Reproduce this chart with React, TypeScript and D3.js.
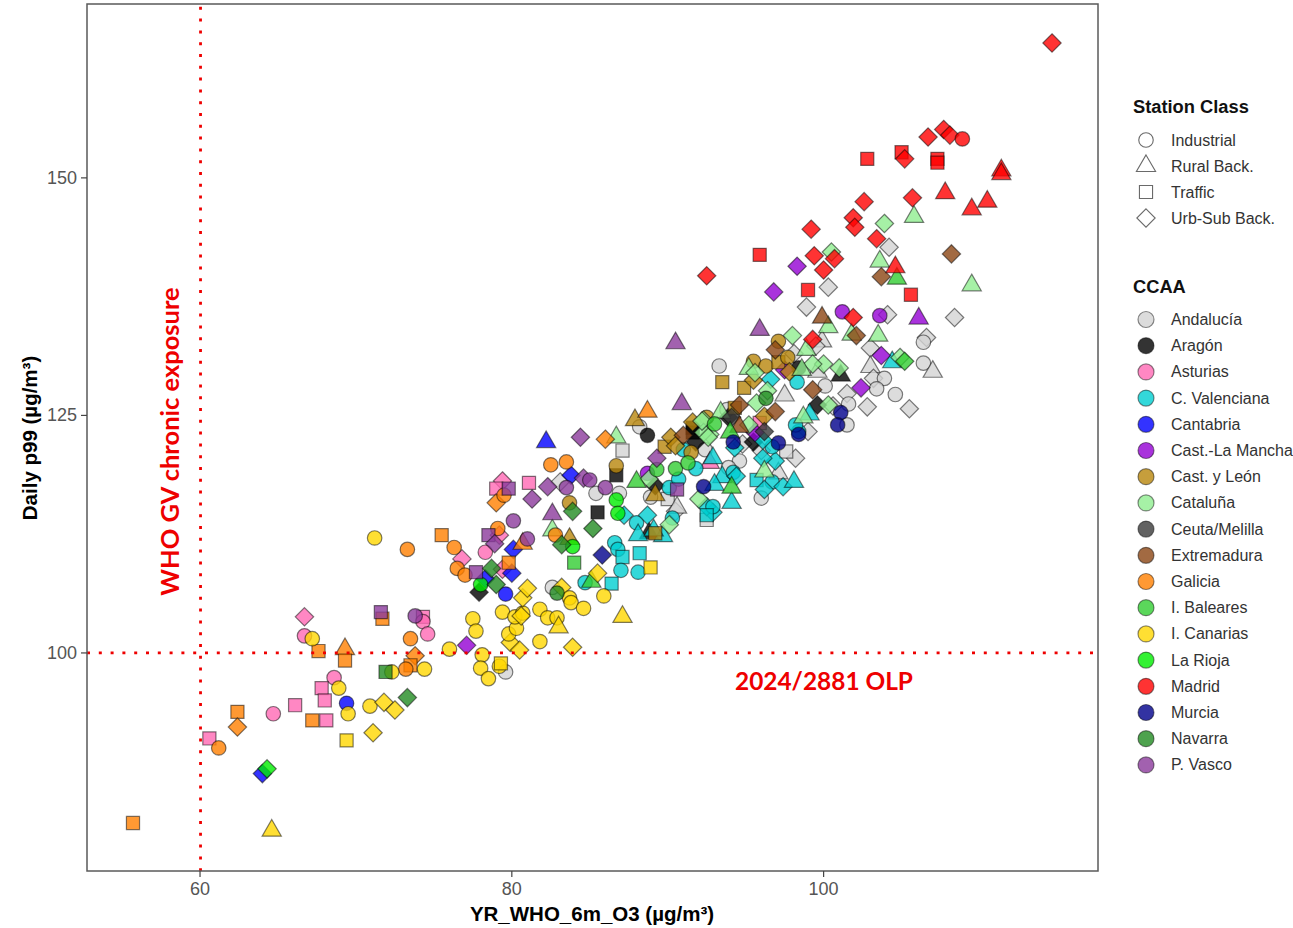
import React from "react";
import * as d3 from "d3";

type P = [number, number, string];

const stationClasses = ["Industrial", "Rural Back.", "Traffic", "Urb-Sub Back."];
const stationCodes = ["c", "t", "s", "d"];
const xTicks = [60, 80, 100];
const yTicks = [100, 125, 150];

const andalucia: P[] = [[104.2,142.7,"d"],[100.3,138.5,"d"],[98.9,136.4,"d"],[108.4,135.3,"d"],[104.1,135.6,"d"],[106.6,133.2,"d"],[106.4,132.7,"c"],[106.4,130.5,"c"],[107,129.6,"t"],[99.9,132.8,"t"],[103,132.1,"d"],[103,130.1,"t"],[103.2,128.9,"d"],[103.9,128.9,"c"],[103.4,127.8,"c"],[104.6,127.2,"c"],[105.5,125.7,"d"],[102.8,125.9,"d"],[101.5,127.3,"d"],[101.6,126.2,"c"],[100.6,126,"d"],[101.5,124,"c"],[100.1,128.1,"c"],[99.6,129.6,"t"],[97.5,127.1,"t"],[98.1,131.5,"d"],[99.5,132.3,"d"],[93.3,130.2,"c"],[99,123.3,"d"],[98.2,120.5,"d"],[97.6,121.2,"s"],[94.6,120.2,"c"],[93.9,119.5,"c"],[97.1,118.9,"t"],[96,116.3,"c"],[94.8,122,"d"],[96,121.3,"d"],[92.4,121.4,"c"],[88.2,123.8,"c"],[87.1,121.3,"s"],[86.9,116.8,"c"],[85.4,116.8,"c"],[88.9,116.4,"c"],[90,116.2,"s"],[90.5,114.9,"d"],[92.5,114,"s"],[83.1,118,"d"],[93.8,125.6,"c"],[82.6,106.9,"c"],[79.6,98,"c"],[90.6,115.3,"t"]];
const aragon: P[] = [[88.7,122.9,"c"],[85.5,114.8,"s"],[86.7,118.7,"s"],[89.2,117.6,"d"],[88.8,112.6,"t"],[91.6,123.2,"s"],[91.6,123.7,"s"],[91.8,122.2,"d"],[93.9,124.8,"d"],[99.6,126.1,"d"],[101.1,129.2,"t"],[98.4,130,"c"],[95.5,122.2,"d"],[77.9,106.4,"d"]];
const asturias: P[] = [[66.7,103.8,"d"],[66.7,101.8,"c"],[68.6,97.4,"c"],[67.8,96.3,"s"],[68,95,"s"],[66.1,94.5,"s"],[64.7,93.6,"c"],[68.1,92.9,"s"],[60.6,91,"s"],[74.3,103.8,"s"],[74.3,103.3,"c"],[74.6,102,"c"],[79.4,118.1,"d"],[79,117.3,"s"],[81.1,117.9,"s"],[79.2,112.4,"d"],[76.8,109.9,"d"],[79.4,108.8,"d"],[78.3,110.6,"c"],[92.7,120,"t"],[95.9,124.2,"s"]];
const valenciana: P[] = [[86.6,111.6,"c"],[86.8,110.9,"c"],[87.1,110.1,"s"],[88.2,110.5,"s"],[87,108.7,"c"],[88.1,108.5,"c"],[86.4,107.3,"s"],[84.7,107.4,"c"],[87.2,114.5,"d"],[88,113.7,"c"],[88.1,112.4,"t"],[88.7,114.5,"d"],[89.7,112.3,"t"],[89.1,112.9,"t"],[90.1,117.4,"c"],[90.3,114.2,"c"],[94.1,115.8,"t"],[92.9,114.8,"d"],[92.5,115.4,"d"],[92.9,115.4,"c"],[92.5,114.5,"s"],[93.5,118.5,"t"],[93,117.7,"t"],[94.2,119,"c"],[94.4,118.6,"d"],[91.8,119.4,"c"],[90.7,118.3,"c"],[95.7,118.2,"s"],[96.7,118,"c"],[96.2,117.2,"d"],[97.4,117.5,"d"],[98.1,118,"t"],[96.9,120.2,"d"],[96.1,120.5,"d"],[96.7,121.7,"c"],[96.1,122.4,"d"],[94.3,121.6,"d"],[92.9,120.5,"t"],[91,121.4,"c"],[98.3,128.5,"c"],[98.4,123.3,"c"],[98.2,124,"c"],[104.4,130.6,"t"],[96.6,128.8,"d"],[99.1,125.1,"t"]];
const cantabria: P[] = [[82.2,122.2,"t"],[83.8,118.7,"d"],[80.1,110.9,"d"],[80,108.4,"d"],[79.6,106.2,"c"],[78.3,107.8,"d"],[69.4,94.7,"c"],[64,87.3,"d"]];
const castillaLM: P[] = [[96.8,138,"d"],[98.3,140.7,"d"],[101.2,135.9,"c"],[103.6,135.5,"c"],[106.1,135.2,"t"],[103.7,131.3,"d"],[102.4,127.9,"d"],[97.5,129.8,"d"],[95.6,123.2,"d"],[77.1,100.8,"d"],[88.7,118.9,"c"]];
const castillaLeon: P[] = [[87.9,124.5,"t"],[89.8,121.7,"s"],[90.2,122.7,"d"],[90.5,121.8,"d"],[91.5,121.1,"c"],[89.2,116.6,"t"],[86.7,119.7,"c"],[89.2,112.6,"s"],[83.7,115.8,"c"],[83.7,112,"t"],[93.5,128.5,"s"],[94.9,127.9,"s"],[94.3,125.8,"s"],[97.1,132.8,"c"],[95.5,130.7,"c"],[96.3,130.2,"c"],[97.1,130.6,"s"],[97.7,131.1,"c"],[97.8,129.6,"d"],[95.5,128.7,"d"],[96.2,124.9,"d"],[91.6,124.3,"d"],[92.5,124.8,"c"]];
const cataluna: P[] = [[103.9,145.2,"d"],[105.8,145.9,"t"],[103.6,141.2,"t"],[100.5,142.2,"d"],[109.5,138.7,"t"],[103.5,133.4,"t"],[100.3,134.3,"t"],[98,133.4,"d"],[101.8,133.5,"t"],[98.9,131.9,"t"],[100,130.4,"d"],[99.3,130.4,"d"],[98.6,129.8,"t"],[95.2,129.9,"t"],[95.6,129.5,"d"],[95.7,126.3,"d"],[96.4,127.6,"d"],[95.2,124,"d"],[98.7,124.8,"t"],[100.3,126.1,"d"],[104.9,131.1,"d"],[101,130,"d"],[96.2,119.1,"t"],[92.3,124.5,"d"],[92.7,123,"d"],[92.3,123.2,"d"],[86.7,122.7,"t"],[92.2,124.4,"d"],[92.6,122.7,"d"],[93.4,125.3,"t"],[88.8,118.3,"d"],[92,116.2,"d"],[90.1,113.5,"d"],[82.6,112.9,"t"]];
const ceutaMelilla: P[] = [[94.1,124.8,"d"],[96.2,123.3,"d"]];
const extremadura: P[] = [[108.2,142,"d"],[103.7,139.6,"d"],[99.9,135.3,"t"],[102.1,133.4,"d"],[96.9,131.9,"d"],[99.3,127.7,"d"],[96.9,125.4,"d"],[94.6,126.1,"d"],[94.6,123.8,"t"],[91,122.9,"d"]];
const galicia: P[] = [[75.5,112.4,"s"],[76.3,111.1,"c"],[76.5,108.9,"c"],[77,108.2,"c"],[82.5,119.8,"c"],[83.5,120.1,"c"],[86,122.5,"d"],[88.7,125.4,"t"],[79,115.8,"d"],[79.5,116.6,"c"],[79.1,113.1,"c"],[80.7,111.5,"t"],[79.8,109.5,"s"],[82.8,112.4,"c"],[55.7,82.1,"s"],[62.4,93.8,"s"],[62.4,92.2,"d"],[61.2,90,"c"],[67.2,92.9,"s"],[67.6,100.2,"s"],[69.3,100.4,"t"],[69.3,99.2,"s"],[71.7,103.6,"s"],[73.5,101.5,"c"],[73.8,99.7,"d"],[73.5,98.7,"s"],[73.2,98.3,"c"],[73.3,110.9,"c"]];
const baleares: P[] = [[104.7,139.4,"t"],[105.2,130.7,"d"],[94,123.2,"t"],[93,124.1,"c"],[88,118,"t"],[89.3,119.3,"c"],[90.5,119.4,"c"],[94.1,117.4,"t"],[85.1,107.5,"t"],[84,109.5,"s"],[91.3,120,"c"]];
const canarias: P[] = [[77.5,103.6,"c"],[77.7,102.3,"c"],[76,100.4,"c"],[78.1,99.8,"c"],[78,98.4,"c"],[78.5,97.3,"c"],[79.2,98.6,"c"],[79.3,98.9,"s"],[79.9,101.1,"d"],[80.5,100.3,"d"],[79.8,102,"c"],[80.3,102.6,"c"],[79.4,104.3,"c"],[80.2,103.8,"c"],[80.7,104.2,"c"],[80.6,103.9,"d"],[80.7,105.8,"d"],[81,106.8,"d"],[81.8,104.6,"c"],[82.3,103.7,"c"],[82.9,103.7,"c"],[83,102.7,"t"],[81.8,101.2,"c"],[83.9,100.6,"d"],[83.2,106.9,"d"],[83.7,105.8,"c"],[83.8,105.3,"c"],[84.6,104.7,"c"],[85.9,106,"c"],[87.1,103.8,"t"],[85.5,108.4,"d"],[88.9,109,"s"],[67.2,101.5,"c"],[68.9,96.3,"c"],[69.5,93.6,"c"],[69.4,90.8,"s"],[70.9,94.4,"c"],[71.8,94.8,"d"],[72.5,94,"d"],[71.1,91.6,"d"],[72.3,98,"c"],[74.4,98.3,"c"],[64.6,81.3,"t"],[71.2,112.1,"c"]];
const laRioja: P[] = [[64.3,87.8,"d"],[78,107.2,"c"],[83.9,111.2,"c"],[86.7,116.1,"c"],[86.8,114.7,"c"]];
const madrid: P[] = [[114.65,164.2,"d"],[106.7,154.3,"d"],[107.7,155.1,"d"],[108.1,154.5,"d"],[108.9,154.1,"c"],[102.8,152,"s"],[105,152.7,"s"],[105.2,152,"d"],[107.3,152,"s"],[107.3,151.6,"s"],[111.4,150.8,"t"],[111.4,150.4,"t"],[107.8,148.4,"t"],[110.5,147.5,"t"],[109.5,146.7,"t"],[105.7,147.9,"d"],[102.6,147.5,"d"],[101.9,145.8,"d"],[102,144.8,"d"],[99.2,144.6,"d"],[103.4,143.6,"d"],[95.9,141.9,"s"],[99.4,141.8,"d"],[100.7,141.5,"d"],[100,140.3,"d"],[92.5,139.7,"d"],[104.6,140.6,"t"],[99,138.2,"s"],[105.6,137.7,"s"],[101.9,135.3,"d"],[99.3,133,"d"]];
const murcia: P[] = [[92.3,117.5,"c"],[85.8,110.3,"d"],[97.1,122.1,"c"],[101.1,125.3,"c"],[100.9,124,"c"],[98.4,123,"c"],[94.2,122.2,"c"]];
const navarra: P[] = [[71.9,98,"s"],[73.3,95.3,"d"],[78.7,108.9,"d"],[79,107.2,"d"],[85.2,113.1,"d"],[83.9,114.9,"d"],[83.2,111.4,"d"],[82.9,106.3,"c"],[96.3,126.8,"c"]];
const paisVasco: P[] = [[90.5,132.6,"t"],[90.9,126.2,"t"],[84.4,122.7,"d"],[82.6,114.6,"t"],[82.3,117.5,"d"],[84.6,118.4,"d"],[85,118.2,"c"],[86,117.4,"c"],[83.5,117.4,"c"],[81.3,116.2,"d"],[80.1,113.9,"c"],[79.8,117.3,"s"],[89.3,120.5,"d"],[95.9,134,"t"],[90.6,117.2,"s"],[78.5,112.4,"s"],[78.9,111.5,"d"],[77.7,108.5,"s"],[81,112,"c"],[71.6,104.3,"s"],[73.8,103.9,"c"]];

const regions: { name: string; color: string; points: P[] }[] = [
  { name: "Andalucía", color: "#d3d3d3", points: andalucia },
  { name: "Aragón", color: "#000000", points: aragon },
  { name: "Asturias", color: "#ff69b4", points: asturias },
  { name: "C. Valenciana", color: "#00ced1", points: valenciana },
  { name: "Cantabria", color: "#0000ff", points: cantabria },
  { name: "Cast.-La Mancha", color: "#9400d3", points: castillaLM },
  { name: "Cast. y León", color: "#b8860b", points: castillaLeon },
  { name: "Cataluña", color: "#90ee90", points: cataluna },
  { name: "Ceuta/Melilla", color: "#3a3a3a", points: ceutaMelilla },
  { name: "Extremadura", color: "#8b4513", points: extremadura },
  { name: "Galicia", color: "#ff7f00", points: galicia },
  { name: "I. Baleares", color: "#32cd32", points: baleares },
  { name: "I. Canarias", color: "#ffd700", points: canarias },
  { name: "La Rioja", color: "#00ee00", points: laRioja },
  { name: "Madrid", color: "#ff0000", points: madrid },
  { name: "Murcia", color: "#00008b", points: murcia },
  { name: "Navarra", color: "#228b22", points: navarra },
  { name: "P. Vasco", color: "#8b3a9b", points: paisVasco },
];

const symbolPath = (code: string, k = 1): string => {
  const spec: Record<string, [d3.SymbolType, number]> = {
    c: [d3.symbolCircle, 165],
    t: [d3.symbolTriangle, 160],
    s: [d3.symbolSquare, 172],
    d: [d3.symbolDiamond2, 215],
  };
  const [type, size] = spec[code];
  return d3.symbol().type(type).size(size * k)() as string;
};

const FONT = "'Liberation Sans', Arial, sans-serif";
const P_LEFT = 87, P_RIGHT = 1098, P_TOP = 4, P_BOTTOM = 871;

export default function App() {
  const x = d3.scaleLinear().domain([52.75, 117.6]).range([P_LEFT, P_RIGHT]);
  const y = d3.scaleLinear().domain([77.05, 168.3]).range([P_BOTTOM, P_TOP]);
  return (
    <svg
      width={1293}
      height={928}
      style={{ position: "absolute", left: 0, top: 0, background: "#fff" }}
      fontFamily={FONT}
    >
      {regions.map((r) => (
        <g key={r.name}>
          {r.points.map((p, i) => (
            <path
              key={i}
              d={symbolPath(p[2])}
              transform={`translate(${x(p[0])},${y(p[1])})`}
              fill={r.color}
              fillOpacity={0.8}
              stroke="#000"
              strokeOpacity={0.5}
              strokeWidth={1.2}
            />
          ))}
        </g>
      ))}

      <line x1={x(60) + 0.5} x2={x(60) + 0.5} y1={P_TOP} y2={P_BOTTOM} stroke="#ee0000" strokeWidth={2.8} strokeDasharray="3 8.8" strokeDashoffset={-2.8} />
      <line x1={P_LEFT} x2={P_RIGHT} y1={y(100)} y2={y(100)} stroke="#ee0000" strokeWidth={2.8} strokeDasharray="3 8.8" />

      <rect x={P_LEFT} y={P_TOP} width={P_RIGHT - P_LEFT} height={P_BOTTOM - P_TOP} fill="none" stroke="#5a5a5a" strokeWidth={1.5} />

      {xTicks.map((t) => (
        <g key={t}>
          <line x1={x(t)} x2={x(t)} y1={P_BOTTOM} y2={P_BOTTOM + 6} stroke="#444" strokeWidth={1.2} />
          <text x={x(t)} y={895} textAnchor="middle" fontSize={18} fill="#555">{t}</text>
        </g>
      ))}
      {yTicks.map((t) => (
        <g key={t}>
          <line x1={P_LEFT - 6} x2={P_LEFT} y1={y(t)} y2={y(t)} stroke="#444" strokeWidth={1.2} />
          <text x={77} y={y(t) + 6} textAnchor="end" fontSize={18} fill="#555">{t}</text>
        </g>
      ))}

      <text x={592} y={921} textAnchor="middle" fontSize={20.5} fontWeight="bold" fill="#000">YR_WHO_6m_O3 (µg/m³)</text>
      <text transform="translate(37,438) rotate(-90)" textAnchor="middle" fontSize={20.5} fontWeight="bold" fill="#000">Daily p99 (µg/m³)</text>

      <text transform="translate(179,441.5) rotate(-90)" textAnchor="middle" fontFamily="Lato, sans-serif" fontSize={25.5} fontWeight="bold" fill="#ee0000">WHO GV chronic exposure</text>
      <text x={824} y={690} textAnchor="middle" fontFamily="Lato, sans-serif" fontSize={24.4} fontWeight="bold" fill="#ee0000">2024/2881 OLP</text>

      <text x={1133} y={113} fontSize={18.3} fontWeight="bold" fill="#111">Station Class</text>
      {stationClasses.map((c, i) => {
        const yy = 140 + i * 26;
        return (
          <g key={c}>
            <path d={symbolPath(stationCodes[i], 1)} transform={`translate(1146,${yy})`} fill="none" stroke="#6a6a6a" strokeWidth={1.1} />
            <text x={1171} y={yy + 5.5} fontSize={16} fill="#333">{c}</text>
          </g>
        );
      })}

      <text x={1133} y={293} fontSize={18.3} fontWeight="bold" fill="#111">CCAA</text>
      {regions.map((r, i) => {
        const yy = 319.5 + i * 26.2;
        return (
          <g key={r.name}>
            <circle cx={1146} cy={yy} r={8} fill={r.color} fillOpacity={0.8} stroke="#000" strokeOpacity={0.45} strokeWidth={1.2} />
            <text x={1171} y={yy + 5.5} fontSize={16} fill="#333">{r.name}</text>
          </g>
        );
      })}
    </svg>
  );
}
